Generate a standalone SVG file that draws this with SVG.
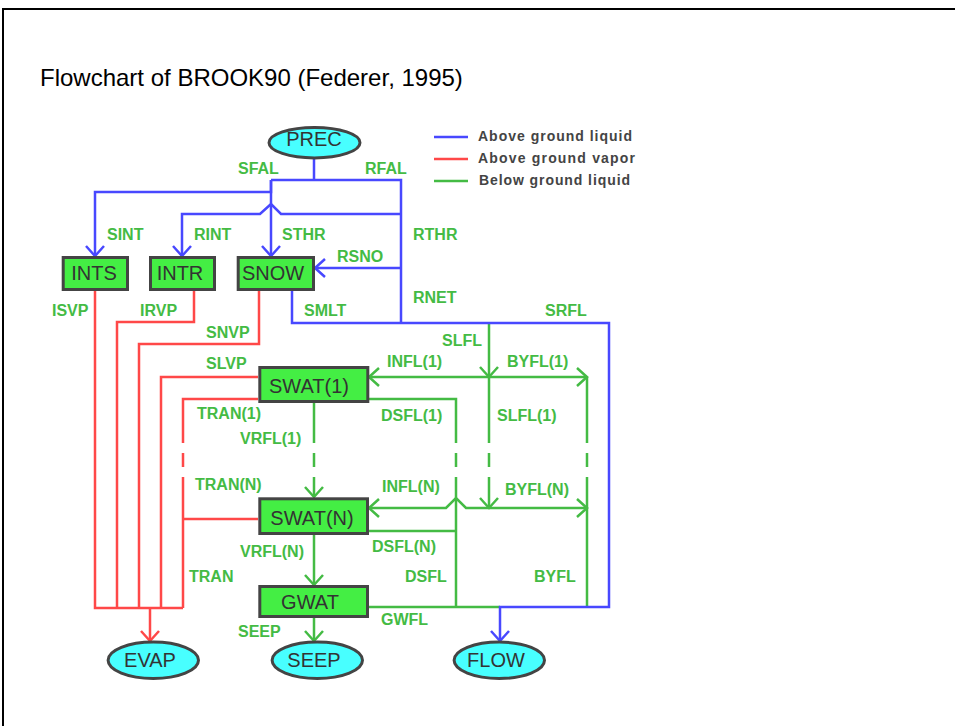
<svg xmlns="http://www.w3.org/2000/svg" width="955" height="726" viewBox="0 0 955 726">
<style>
.b{fill:none;stroke:#4848ff;stroke-width:2.5}
.r{fill:none;stroke:#ff4848;stroke-width:2.5}
.g{fill:none;stroke:#44bb44;stroke-width:2.5}
.lbl{font-family:"Liberation Sans",Arial,sans-serif;font-weight:bold;font-size:16px;fill:#44bb44}
.leg{font-family:"Liberation Sans",Arial,sans-serif;font-weight:bold;font-size:14px;fill:#444}
.box{fill:#44ee44;stroke:#444;stroke-width:3}
.ell{fill:#48ffff;stroke:#444;stroke-width:3}
.nt{font-family:"Liberation Sans",Arial,sans-serif;font-size:20px;fill:#333;text-anchor:middle}
</style>
<defs>
<marker id="ab" markerUnits="userSpaceOnUse" markerWidth="24" markerHeight="24" viewBox="-12 -12 24 24" refX="0" refY="0" orient="auto"><path d="M-10,-9 L0,0 L-10,9" fill="none" stroke="#4848ff" stroke-width="2.5"/></marker>
<marker id="ar" markerUnits="userSpaceOnUse" markerWidth="24" markerHeight="24" viewBox="-12 -12 24 24" refX="0" refY="0" orient="auto"><path d="M-10,-9 L0,0 L-10,9" fill="none" stroke="#ff4848" stroke-width="2.5"/></marker>
<marker id="ag" markerUnits="userSpaceOnUse" markerWidth="24" markerHeight="24" viewBox="-12 -12 24 24" refX="0" refY="0" orient="auto"><path d="M-10,-9 L0,0 L-10,9" fill="none" stroke="#44bb44" stroke-width="2.5"/></marker>
</defs>
<rect width="955" height="726" fill="#fff"/>
<path d="M3,726 V9 H955" fill="none" stroke="#000" stroke-width="2"/>
<text x="40" y="86" font-family="'Liberation Sans',Arial,sans-serif" font-size="24" fill="#000">Flowchart of BROOK90 (Federer, 1995)</text>

<g id="legend">
<line class="b" x1="434" y1="137" x2="468" y2="137"/>
<line class="r" x1="434" y1="159" x2="468" y2="159"/>
<line class="g" x1="434" y1="181" x2="468" y2="181"/>
<text class="leg" x="478" y="141" textLength="154" lengthAdjust="spacing">Above ground liquid</text>
<text class="leg" x="478" y="163" textLength="157" lengthAdjust="spacing">Above ground vapor</text>
<text class="leg" x="479" y="185" textLength="151" lengthAdjust="spacing">Below ground liquid</text>
</g>

<g id="connectors">
<path class="r" d="M95,291 V608 H183 M194,291 V322 H117 V608 M259,291 V344 H139 V608 M258,377 H161 V608 M258,399 H183 V443 M183,453 V467 M183,477 V608 M258,519 H183"/>
<path class="r" d="M150,608 V641" marker-end="url(#ar)"/>
<path class="g" d="M314,403 V443 M314,453 V467 M314,477 V497" marker-end="url(#ag)"/>
<path class="g" d="M314,535 V585" marker-end="url(#ag)"/>
<path class="g" d="M314,618 V641" marker-end="url(#ag)"/>
<path class="g" d="M489,323 V377" marker-end="url(#ag)"/>
<path class="g" d="M489,377 V443 M489,453 V467 M489,477 V508" marker-end="url(#ag)"/>
<path class="g" d="M489,377 H369" marker-end="url(#ag)"/>
<path class="g" d="M489,377 H587" marker-end="url(#ag)"/>
<path class="g" d="M587,377 V443 M587,453 V467 M587,477 V607"/>
<path class="g" d="M369,399 H456 V443 M456,453 V467 M456,477 V607"/>
<path class="g" d="M489,508 H466 L456,498 L446,508 H369" marker-end="url(#ag)"/>
<path class="g" d="M489,508 H587" marker-end="url(#ag)"/>
<path class="g" d="M369,531 H456"/>
<path class="g" d="M369,607 H500"/>
<path class="b" d="M314,159 V180 M271,180 H401 V323"/>
<path class="b" d="M271,180 V192 H95 V256" marker-end="url(#ab)"/>
<path class="b" d="M271,180 V256" marker-end="url(#ab)"/>
<path class="b" d="M401,214 H281 L271,204 L260,214 H182 V256" marker-end="url(#ab)"/>
<path class="b" d="M401,268 H315" marker-end="url(#ab)"/>
<path class="b" d="M292,291 V323 H609 V607 H500 V641" marker-end="url(#ab)"/>
</g>

<g id="labels">
<text class="lbl" x="238" y="174">SFAL</text>
<text class="lbl" x="365" y="174">RFAL</text>
<text class="lbl" x="107" y="240">SINT</text>
<text class="lbl" x="194" y="240">RINT</text>
<text class="lbl" x="282" y="240">STHR</text>
<text class="lbl" x="413" y="240">RTHR</text>
<text class="lbl" x="337" y="262">RSNO</text>
<text class="lbl" x="413" y="303">RNET</text>
<text class="lbl" x="52" y="316">ISVP</text>
<text class="lbl" x="140" y="316">IRVP</text>
<text class="lbl" x="304" y="316">SMLT</text>
<text class="lbl" x="545" y="316">SRFL</text>
<text class="lbl" x="206" y="338">SNVP</text>
<text class="lbl" x="442" y="346">SLFL</text>
<text class="lbl" x="206" y="369">SLVP</text>
<text class="lbl" x="387" y="367">INFL(1)</text>
<text class="lbl" x="507" y="367">BYFL(1)</text>
<text class="lbl" x="197" y="419">TRAN(1)</text>
<text class="lbl" x="381" y="421">DSFL(1)</text>
<text class="lbl" x="497" y="421">SLFL(1)</text>
<text class="lbl" x="240" y="444">VRFL(1)</text>
<text class="lbl" x="195" y="490">TRAN(N)</text>
<text class="lbl" x="382" y="492">INFL(N)</text>
<text class="lbl" x="505" y="495">BYFL(N)</text>
<text class="lbl" x="372" y="552">DSFL(N)</text>
<text class="lbl" x="240" y="557">VRFL(N)</text>
<text class="lbl" x="189" y="582">TRAN</text>
<text class="lbl" x="405" y="582">DSFL</text>
<text class="lbl" x="534" y="582">BYFL</text>
<text class="lbl" x="381" y="625">GWFL</text>
<text class="lbl" x="238" y="637">SEEP</text>
</g>

<g id="PREC"><ellipse class="ell" cx="314.5" cy="142.7" rx="45.5" ry="15.2"/><text class="nt" x="314" y="145.5">PREC</text></g>
<g id="INTS"><rect class="box" x="63.2" y="257.5" width="64.3" height="32"/><text class="nt" x="94" y="280">INTS</text></g>
<g id="INTR"><rect class="box" x="150.5" y="257.5" width="64" height="32"/><text class="nt" x="180" y="280">INTR</text></g>
<g id="SNOW"><rect class="box" x="238.2" y="257.5" width="75.3" height="32"/><text class="nt" x="273" y="279.5">SNOW</text></g>
<g id="SWAT1"><rect class="box" x="259.8" y="367.5" width="108" height="34"/><text class="nt" x="309" y="393">SWAT(1)</text></g>
<g id="SWATN"><rect class="box" x="259.8" y="498.8" width="107.7" height="34.7"/><text class="nt" x="312" y="524.5">SWAT(N)</text></g>
<g id="GWAT"><rect class="box" x="259.8" y="586.5" width="107.7" height="30"/><text class="nt" x="310" y="608.5">GWAT</text></g>
<g id="EVAP"><ellipse class="ell" cx="153.3" cy="660.3" rx="45.2" ry="18.2"/><text class="nt" x="150" y="667">EVAP</text></g>
<g id="SEEP"><ellipse class="ell" cx="317.3" cy="660.3" rx="45.2" ry="18.2"/><text class="nt" x="314" y="667">SEEP</text></g>
<g id="FLOW"><ellipse class="ell" cx="499.3" cy="660.3" rx="45.2" ry="18.2"/><text class="nt" x="496" y="667">FLOW</text></g>
</svg>
